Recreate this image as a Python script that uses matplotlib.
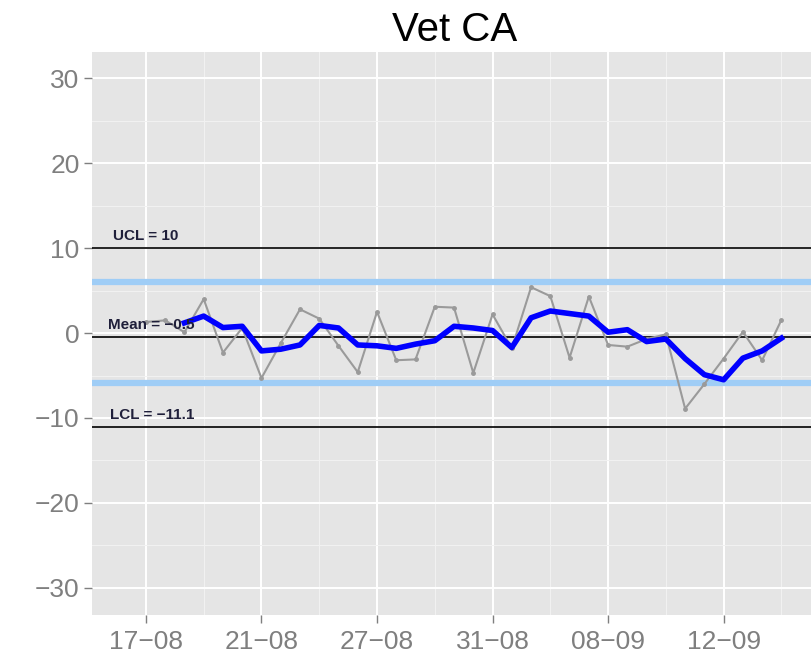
import matplotlib
matplotlib.use("Agg")
import matplotlib.pyplot as plt
from matplotlib.ticker import MultipleLocator, FixedLocator

plt.rcParams['font.family'] = ['Liberation Sans', 'DejaVu Sans']

title = "Vet CA"

# raw observations (grey line), one per category
values = [1.3, 1.5, 0.1, 4.0, -2.3, 0.6, -5.3, -1.2, 2.8, 1.7,
          -1.5, -4.6, 2.5, -3.2, -3.1, 3.1, 3.0, -4.7, 2.2, -1.8,
          5.4, 4.35, -2.9, 4.3, -1.4, -1.6, -0.7, -0.15, -8.9, -6.0,
          -3.0, 0.15, -3.2, 1.55]

# moving average (blue line), starts at the third observation
moving_avg = [1.2, 2.0, 0.65, 0.8, -2.1, -1.9, -1.4, 0.9, 0.6, -1.4,
              -1.5, -1.8, -1.3, -0.9, 0.8, 0.6, 0.3, -1.7, 1.8, 2.6,
              2.3, 2.0, 0.1, 0.4, -1.0, -0.7, -3.0, -4.9, -5.5, -2.95,
              -2.1, -0.6]

tick_labels = ["17\u221208", "21\u221208", "27\u221208", "31\u221208", "08\u221209", "12\u221209"]
tick_every = 6

ucl = 10
mean = -0.5
lcl = -11.1
warn_hi = 6.0
warn_lo = -5.9

fig = plt.figure(figsize=(8.11, 6.58), dpi=100)
ax = fig.add_axes([92/811, 43/658, 726/811, 563/658])
ax.set_facecolor('#E5E5E5')

x = list(range(len(values)))
xm = x[len(values) - len(moving_avg):]

ax.set_xlim(-2.8, 34.9)
ax.set_ylim(-33.2, 33.1)

# grid like ggplot
ax.xaxis.set_major_locator(FixedLocator(x[::tick_every]))
ax.xaxis.set_minor_locator(FixedLocator([k + tick_every / 2 for k in x[::tick_every]]))
ax.yaxis.set_major_locator(MultipleLocator(10))
ax.yaxis.set_minor_locator(MultipleLocator(5))
ax.grid(which='major', color='white', lw=1.4, zorder=0)
ax.grid(which='minor', color='#F2F2F2', lw=0.7, zorder=0)
ax.set_axisbelow(True)
ax.set_xticklabels(tick_labels)

for s in ax.spines.values():
    s.set_visible(False)

ax.tick_params(which='major', length=6, width=1, color='#7F7F7F',
               labelcolor='#7F7F7F', labelsize=19, pad=3)
ax.tick_params(axis='x', pad=5)
ax.tick_params(which='minor', length=0)

# control lines
ax.axhline(warn_hi, color='#9FCDF6', lw=4.5, zorder=2)
ax.axhline(warn_lo, color='#9FCDF6', lw=4.5, zorder=2)
ax.axhline(ucl, color='black', lw=1.2, zorder=2)
ax.axhline(mean, color='black', lw=1.2, zorder=2)
ax.axhline(lcl, color='black', lw=1.2, zorder=2)

ax.plot(x, values, color='#9A9A9A', lw=1.5, marker='o', ms=2.5, zorder=3)
ax.plot(xm, moving_avg, color='#0000FF', lw=4, solid_joinstyle='round', zorder=4)

lab_kw = dict(fontsize=11, fontweight='bold', color='#1F1F3A', va='center', ha='center', zorder=5)
ax.text(0.0, ucl + 1.4, "UCL = %g" % ucl, **lab_kw)
ax.text(0.3, mean + 1.4, "Mean = \u2212%g" % abs(mean), **lab_kw)
ax.text(0.3, lcl + 1.4, "LCL = \u2212%g" % abs(lcl), **lab_kw)

ax.set_title(title, fontsize=29, pad=8)

fig.savefig("out.png", dpi=100)
